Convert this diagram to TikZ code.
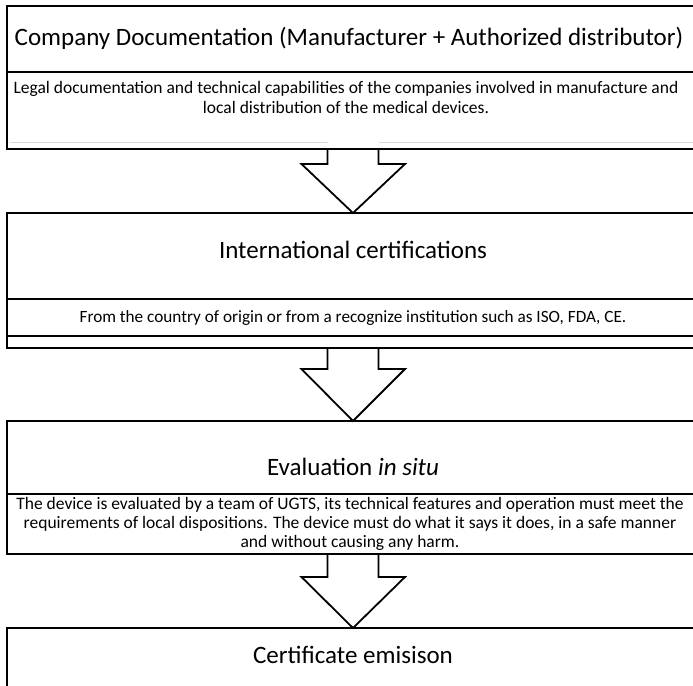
\documentclass[tikz,border=0pt]{standalone}
\usepackage{fontspec}
\setmainfont{Carlito}
\usetikzlibrary{calc}
\begin{document}
\begin{tikzpicture}[x=1pt,y=-1pt,
  cell/.style={draw=black, line width=2pt, minimum width=692pt, inner sep=0pt, outer sep=0pt, anchor=north west},
  bigtxt/.style={font=\fontsize{25}{29}\selectfont, inner sep=0pt},
  smalltxt/.style={font=\fontsize{17.5}{19}\selectfont, inner sep=0pt, align=center},
  tinytxt/.style={font=\fontsize{17.2}{19}\selectfont, inner sep=0pt},
  blockarrow/.style={draw=black, line width=1.8pt, line join=miter},
  faint/.style={draw=black!15, line width=1pt}]
\useasboundingbox (0,0) rectangle (693,685);
\fill[white] (0,0) rectangle (693,685);
\clip (0,0) rectangle (693,685);

% box cells
\node[cell, minimum height=66pt] (t1) at (7,6) {};
\node[cell, minimum height=77pt] (d1) at (7,72) {};
\node[cell, minimum height=86pt] (t2) at (7,213) {};
\node[cell, minimum height=37pt] (d2) at (7,299) {};
\node[cell, minimum height=12pt] (e2) at (7,336) {};
\node[cell, minimum height=73pt] (t3) at (7,421) {};
\node[cell, minimum height=60pt] (d3) at (7,494) {};
\node[cell, minimum height=100pt] (t4) at (7,628) {};

% faint inner line of first box
\draw[faint] ($(d1.south west)+(3,-7)$) -- ($(d1.south)+(-25.5,-7)$);
\draw[faint] ($(d1.south)+(25.5,-7)$) -- ($(d1.south east)+(0,-7)$);

% block arrows
\draw[blockarrow] ($(d1.south)+(-25.5,0)$) -- ++(0,15) -- ++(-26,0) -- (t2.north)
  -- ($(d1.south)+(52,15)$) -- ++(-26.5,0) -- ++(0,-15);
\draw[blockarrow] ($(e2.south)+(-25.5,0)$) -- ++(0,21) -- ++(-26,0) -- (t3.north)
  -- ($(e2.south)+(52,21)$) -- ++(-26.5,0) -- ++(0,-21);
\draw[blockarrow] ($(d3.south)+(-25.5,0)$) -- ++(0,23) -- ++(-26,0) -- (t4.north)
  -- ($(d3.south)+(52,23)$) -- ++(-26.5,0) -- ++(0,-23);

% texts
\node[bigtxt] (l1) at (349,38) {Company Documentation (Manufacturer + Authorized distributor)};
\node[smalltxt, font=\fontsize{17.5}{20}\selectfont] (s1) at (346,97) {Legal documentation and technical capabilities of the companies involved in manufacture and\\local distribution of the medical devices.};
\node[bigtxt] (l2) at (353,250) {International certifications};
\node[tinytxt] (s2) at (353,318) {From the country of origin or from a recognize institution such as ISO, FDA, CE.};
\node[bigtxt] (l3) at (353,467) {Evaluation \textit{in situ}};
\node[smalltxt] (s3) at (350,524) {The device is evaluated by a team of UGTS, its technical features and operation must meet the\\requirements of local dispositions. The device must do what it says it does, in a safe manner\\and without causing any harm.};
\node[bigtxt] (l4) at (353,655) {Certificate emisison};
\end{tikzpicture}
\end{document}
